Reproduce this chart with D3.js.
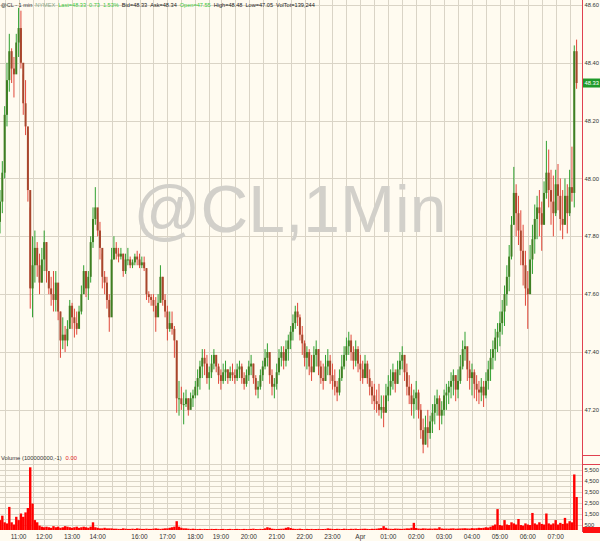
<!DOCTYPE html>
<html><head><meta charset="utf-8">
<script src="https://cdn.jsdelivr.net/npm/d3@7"></script>
<style>html,body{margin:0;padding:0;background:#fffbf0;} svg{display:block;}</style>
</head><body><svg id="c" width="600" height="541"></svg>
<script>
// ---------- DATA ----------
const firstOpen = 47.85;
const high = [
47.96,48.06,48.25,48.40,48.50,48.45,48.42,48.50,48.59,48.58,48.36,48.34,48.16,47.90,47.80,47.82,
47.78,47.74,47.76,47.82,47.78,47.68,47.66,47.68,47.68,47.60,47.54,47.52,47.49,47.51,47.58,47.57,
47.55,47.54,47.56,47.63,47.70,47.67,47.68,47.80,47.90,47.97,47.88,47.85,47.74,47.68,47.66,47.60,
47.76,47.80,47.78,47.76,47.76,47.74,47.74,47.76,47.73,47.72,47.74,47.75,47.74,47.73,47.73,47.69,
47.61,47.60,47.60,47.59,47.60,47.70,47.66,47.60,47.56,47.54,47.54,47.49,47.44,47.30,47.28,47.26,
47.27,47.24,47.26,47.27,47.30,47.34,47.37,47.41,47.41,47.39,47.35,47.39,47.41,47.39,47.36,47.34,
47.36,47.37,47.34,47.35,47.36,47.34,47.36,47.37,47.36,47.33,47.34,47.37,47.39,47.36,47.32,47.30,
47.34,47.37,47.41,47.43,47.39,47.34,47.31,47.36,47.41,47.42,47.42,47.44,47.46,47.49,47.53,47.56,
47.57,47.53,47.49,47.44,47.42,47.41,47.39,47.42,47.44,47.41,47.37,47.36,47.39,47.41,47.39,47.36,
47.34,47.30,47.34,47.39,47.42,47.45,47.47,47.46,47.42,47.44,47.42,47.39,47.37,47.39,47.37,47.34,
47.30,47.29,47.27,47.29,47.25,47.25,47.29,47.32,47.34,47.36,47.34,47.37,47.40,47.42,47.39,47.36,
47.32,47.29,47.27,47.30,47.27,47.22,47.17,47.18,47.20,47.18,47.22,47.25,47.27,47.25,47.23,47.27,
47.29,47.30,47.33,47.34,47.32,47.34,47.39,47.44,47.47,47.41,47.37,47.36,47.34,47.32,47.30,47.31,
47.30,47.33,47.37,47.41,47.44,47.48,47.50,47.54,47.58,47.63,47.70,47.77,47.87,48.04,47.98,47.94,
47.89,47.84,47.75,47.68,47.77,47.84,47.91,47.94,47.96,47.92,47.99,48.13,48.10,48.03,48.01,48.03,
48.05,48.00,47.96,48.00,47.98,48.03,48.11,48.46,48.48];
const low = [
47.81,47.88,48.00,48.18,48.30,48.33,48.28,48.37,48.42,48.38,48.22,48.15,47.92,47.55,47.52,47.64,
47.66,47.60,47.64,47.68,47.64,47.60,47.56,47.54,47.54,47.51,47.38,47.41,47.40,47.42,47.50,47.48,
47.45,47.46,47.49,47.53,47.61,47.59,47.58,47.64,47.76,47.84,47.80,47.72,47.62,47.60,47.55,47.47,
47.56,47.72,47.72,47.71,47.72,47.66,47.67,47.70,47.69,47.69,47.70,47.70,47.69,47.69,47.68,47.58,
47.57,47.56,47.54,47.47,47.53,47.58,47.56,47.52,47.44,47.47,47.46,47.38,47.19,47.18,47.20,47.15,
47.21,47.18,47.21,47.21,47.24,47.25,47.27,47.31,47.32,47.29,47.27,47.31,47.34,47.33,47.29,47.27,
47.29,47.30,47.29,47.30,47.30,47.29,47.30,47.31,47.29,47.27,47.28,47.30,47.32,47.29,47.25,47.24,
47.27,47.30,47.34,47.35,47.29,47.25,47.24,47.27,47.32,47.35,47.34,47.35,47.37,47.41,47.44,47.48,
47.49,47.44,47.39,47.35,47.34,47.32,47.30,47.34,47.35,47.32,47.29,47.27,47.30,47.32,47.29,47.27,
47.25,47.23,47.25,47.30,47.34,47.37,47.39,47.37,47.34,47.35,47.33,47.30,47.29,47.32,47.29,47.25,
47.22,47.20,47.19,47.18,47.17,47.14,47.20,47.23,47.25,47.27,47.26,47.29,47.32,47.34,47.30,47.25,
47.22,47.18,47.17,47.20,47.17,47.10,47.05,47.08,47.07,47.10,47.12,47.15,47.18,47.13,47.15,47.18,
47.20,47.22,47.24,47.25,47.23,47.24,47.29,47.34,47.37,47.30,47.27,47.25,47.24,47.23,47.22,47.23,
47.21,47.24,47.27,47.30,47.34,47.37,47.40,47.42,47.46,47.49,47.56,47.61,47.72,47.84,47.80,47.77,
47.70,47.63,47.56,47.48,47.61,47.67,47.74,47.79,47.80,47.75,47.84,47.93,47.90,47.84,47.80,47.87,
47.89,47.82,47.79,47.84,47.81,47.87,47.92,47.90,48.31];
const close = [
47.92,48.02,48.22,48.34,48.44,48.38,48.36,48.47,48.52,48.40,48.26,48.18,47.96,47.62,47.70,47.76,
47.70,47.64,47.72,47.78,47.68,47.62,47.60,47.58,47.64,47.54,47.44,47.46,47.44,47.48,47.56,47.52,
47.50,47.48,47.54,47.60,47.68,47.62,47.66,47.78,47.86,47.90,47.82,47.76,47.66,47.64,47.58,47.52,
47.72,47.76,47.74,47.73,47.74,47.68,47.72,47.72,47.70,47.71,47.73,47.72,47.70,47.71,47.69,47.60,
47.59,47.58,47.56,47.52,47.57,47.66,47.58,47.54,47.48,47.50,47.48,47.44,47.24,47.24,47.22,47.22,
47.24,47.20,47.24,47.25,47.28,47.31,47.35,47.38,47.36,47.31,47.33,47.36,47.39,47.35,47.32,47.30,
47.33,47.34,47.31,47.33,47.32,47.31,47.34,47.35,47.31,47.29,47.32,47.35,47.36,47.31,47.27,47.28,
47.32,47.35,47.38,47.40,47.32,47.28,47.29,47.33,47.38,47.40,47.37,47.41,47.44,47.47,47.50,47.54,
47.52,47.46,47.43,47.38,47.40,47.35,47.33,47.39,47.41,47.35,47.31,47.30,47.35,47.37,47.32,47.30,
47.28,47.26,47.31,47.35,47.39,47.42,47.44,47.40,47.37,47.41,47.36,47.34,47.31,47.36,47.31,47.28,
47.25,47.23,47.22,47.20,47.21,47.19,47.25,47.28,47.30,47.33,47.29,47.34,47.37,47.39,47.33,47.28,
47.25,47.22,47.24,47.26,47.20,47.13,47.08,47.14,47.12,47.16,47.19,47.22,47.24,47.18,47.20,47.25,
47.26,47.28,47.30,47.32,47.27,47.30,47.35,47.41,47.42,47.34,47.31,47.33,47.29,47.27,47.26,47.28,
47.25,47.30,47.34,47.38,47.41,47.45,47.47,47.50,47.54,47.60,47.66,47.73,47.84,47.95,47.88,47.82,
47.75,47.70,47.62,47.60,47.72,47.79,47.86,47.90,47.88,47.84,47.95,48.02,47.96,47.92,47.88,47.98,
47.94,47.86,47.84,47.94,47.88,47.97,47.95,48.44,48.33];
const volume = [
900,1300,700,600,2100,700,500,1200,900,1500,1200,1600,2000,5700,2400,900,
700,400,300,250,300,250,200,350,250,300,200,250,350,300,250,200,
250,300,200,250,300,250,200,300,700,250,200,150,150,200,150,150,
150,120,120,100,100,150,120,100,100,120,100,150,120,100,100,120,
100,100,120,150,120,100,120,150,150,200,250,300,800,300,200,150,
150,120,100,120,100,90,100,80,100,90,80,100,90,100,80,90,
100,80,90,100,80,90,100,90,80,100,90,80,100,120,90,80,
100,90,150,250,200,120,100,90,100,110,120,200,250,180,120,100,
100,120,90,80,100,90,100,80,90,100,80,90,100,150,120,100,
90,110,100,90,120,100,90,110,100,120,90,100,110,120,100,90,
110,100,120,150,180,350,200,120,110,100,130,120,110,100,120,150,
140,200,650,180,130,120,150,140,120,130,120,140,130,250,140,120,
130,120,140,150,120,130,140,150,160,140,130,170,150,160,200,180,
200,250,220,300,400,500,1900,450,400,900,500,450,700,600,500,1000,
450,400,600,500,450,1550,600,500,700,550,500,1500,600,500,600,900,
500,650,550,1100,600,800,700,5050,3000];
const hourLabels = ["11:00","12:00","13:00","14:00","16:00","17:00","18:00","19:00","20:00","21:00",
  "22:00","23:00","Apr","01:00","02:00","03:00","04:00","05:00","06:00","07:00"];
const hourIndex = [8,19,31,42,60,72,84,95,107,119,131,143,155,167,179,191,203,215,227,239];
const halfIndex = [2,14,25,37,48,54,66,78,90,101,113,125,137,149,161,173,185,197,209,221,233,245];
const priceTicks = [47.20,47.40,47.60,47.80,48.00,48.20,48.40,48.60];
const volumeLabelTicks = [500,1500,2500,3500,4500,5500];
const volumeGridTicks = [500,1000,1500,2000,2500,3000,3500,4000,4500,5000,5500,6000];
const lastPrice = 48.33;
const headerParts = [
  ["@CL - 1 min","#333"],["NYMEX","#8aa88a"],["Last=48.33","#3cc83c"],["0.73","#3cc83c"],["1.53%","#3cc83c"],
  ["Bid=48.33","#222"],["Ask=48.34","#222"],["Open=47.55","#3cc83c"],["High=48.48","#222"],
  ["Low=47.05","#222"],["VolTot=139,244","#222"]];

// ---------- DRAW ----------
const W = 600, H = 541, plotR = 582;
const svg = d3.select("#c");
const FONT = "'Liberation Sans', Arial, sans-serif";
svg.append("rect").attr("width",W).attr("height",H).attr("fill","#fffbf0");

const x = d3.scaleLinear().domain([0,250]).range([0,581.25]);
const y = d3.scaleLinear().domain([47.044,48.617]).range([455,0]);
const yv = d3.scaleLinear().domain([0,6000]).range([530,464]);

const grid = "#dad4c6";
const allV = hourIndex.concat(halfIndex);
svg.append("g").selectAll("line").data(allV).join("line")
  .attr("x1",d=>Math.round(x(d))+0.5).attr("x2",d=>Math.round(x(d))+0.5)
  .attr("y1",0).attr("y2",530).attr("stroke",grid).attr("stroke-width",1);
svg.append("g").selectAll("line").data(priceTicks).join("line")
  .attr("x1",0).attr("x2",plotR).attr("y1",d=>Math.round(y(d))+0.5).attr("y2",d=>Math.round(y(d))+0.5)
  .attr("stroke",grid);
svg.append("g").selectAll("line").data(volumeGridTicks).join("line")
  .attr("x1",0).attr("x2",plotR).attr("y1",d=>Math.round(yv(d))+0.5).attr("y2",d=>Math.round(yv(d))+0.5)
  .attr("stroke",grid);

// watermark
svg.append("text").attr("x",290).attr("y",232).attr("text-anchor","middle")
  .attr("font-family",FONT).attr("font-size",66).attr("fill","#d2d0ca").text("@CL,1Min");

// candles
const candles = close.map((c,i)=>({i, o: i===0?firstOpen:close[i-1], h: high[i], l: low[i], c}));
const up = "#2fa02f", dn = "#e0483a";
const g = svg.append("g");
g.selectAll("line").data(candles).join("line")
  .attr("x1",d=>x(d.i)).attr("x2",d=>x(d.i))
  .attr("y1",d=>y(d.h)).attr("y2",d=>y(d.l))
  .attr("stroke",d=>d.c>=d.o?up:dn).attr("stroke-width",1);
g.selectAll("rect").data(candles).join("rect")
  .attr("x",d=>x(d.i)-1).attr("width",2)
  .attr("y",d=>y(Math.max(d.o,d.c)))
  .attr("height",d=>Math.max(1,Math.abs(y(d.o)-y(d.c))))
  .attr("fill",d=>d.c>=d.o?"#3f7f22":"#a8462c");

// volume
svg.append("g").selectAll("rect").data(volume).join("rect")
  .attr("x",(d,i)=>x(i)-1.2).attr("width",2.4)
  .attr("y",d=>yv(d)).attr("height",d=>yv(0)-yv(d)).attr("fill","#ff0000");

// right axis line & separators
svg.append("line").attr("x1",plotR+0.5).attr("x2",plotR+0.5).attr("y1",0).attr("y2",532).attr("stroke","#e04050");
[455,464].forEach(v=>svg.append("line").attr("x1",plotR).attr("x2",W).attr("y1",v+0.5).attr("y2",v+0.5).attr("stroke","#e04050"));

// price labels
svg.append("g").selectAll("text").data(priceTicks).join("text")
  .attr("x",584.5).attr("y",d=>y(d)).attr("dy","0.35em")
  .attr("font-family",FONT).attr("font-size",5.8).attr("fill","#333").text(d=>d.toFixed(2));
svg.append("rect").attr("x",plotR+1).attr("y",y(lastPrice)-4.5).attr("width",W-plotR-1).attr("height",9).attr("fill","#1f9a2a");
svg.append("text").attr("x",584.5).attr("y",y(lastPrice)).attr("dy","0.35em")
  .attr("font-family",FONT).attr("font-size",5.8).attr("fill","#fff").text(lastPrice.toFixed(2));
svg.append("g").selectAll("text").data(volumeLabelTicks).join("text")
  .attr("x",584.5).attr("y",d=>yv(d)).attr("dy","0.35em")
  .attr("font-family",FONT).attr("font-size",5.8).attr("fill","#333").text(d=>d3.format(",")(d));
svg.append("rect").attr("x",plotR+1).attr("y",yv(0)-3).attr("width",W-plotR-1).attr("height",6).attr("fill","#ff1010");

// time labels
svg.append("g").selectAll("text").data(hourLabels).join("text")
  .attr("x",(d,k)=>x(hourIndex[k])).attr("y",537).attr("dy","0.35em").attr("text-anchor","middle")
  .attr("font-family",FONT).attr("font-size",6.5).attr("fill","#333").text(d=>d);

// header
const ht = svg.append("text").attr("x",1).attr("y",7).attr("font-family",FONT).attr("font-size",5.6);
headerParts.forEach((p,k)=>ht.append("tspan").attr("dx",k===0?0:3).attr("fill",p[1]).text(p[0]));

// volume pane label
const vt = svg.append("text").attr("x",1).attr("y",460).attr("font-family",FONT).attr("font-size",5.8);
vt.append("tspan").attr("fill","#333").text("Volume (100000000,-1)");
vt.append("tspan").attr("dx",4).attr("fill","#e02020").text("0.00");
</script></body></html>
